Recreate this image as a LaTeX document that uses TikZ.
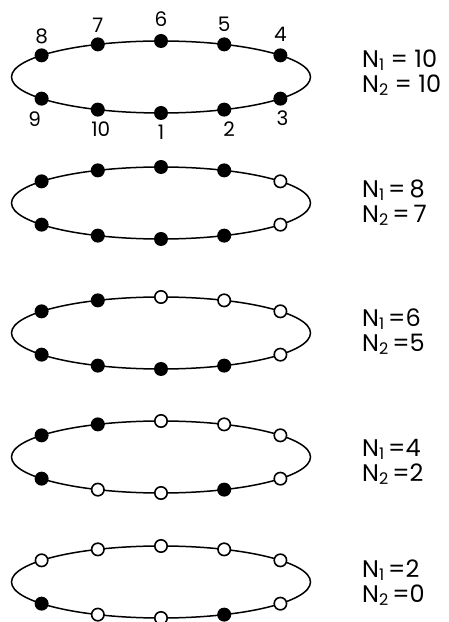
\documentclass[tikz,border=0pt]{standalone}
\usepackage{fontspec}
\setmainfont{Poppins}
\usepackage{tikz}
\usetikzlibrary{calc}
\usetikzlibrary{positioning}
\newcommand{\nsub}[1]{\raisebox{-3pt}{\fontsize{16}{16}\selectfont #1}}

\begin{document}
\begin{tikzpicture}[x=1pt,y=1pt,
  fulldot/.style={circle,fill=black,inner sep=0pt,minimum size=14pt},
  opendot/.style={circle,draw=black,fill=white,line width=1.6pt,inner sep=0pt,minimum size=12.4pt},
  ring/.style={line width=1.5pt},
  num/.style={inner sep=0pt,font=\fontsize{20}{20}\selectfont},
  count/.style={anchor=base west,inner sep=0pt,font=\fontsize{24}{24}\selectfont}]
\useasboundingbox (0,0) rectangle (448,622);

\coordinate (c1) at (161,545);
\coordinate (c2) at (161,419);
\coordinate (c3) at (161,289);
\coordinate (c4) at (161,165);
\coordinate (c5) at (161,40);

% rings
\draw[ring] (c1) ellipse (149.5 and 36);
\draw[ring] (c2) ellipse (149.5 and 36);
\draw[ring] (c3) ellipse (149.5 and 36);
\draw[ring] (c4) ellipse (149.5 and 36);
\draw[ring] (c5) ellipse (149.5 and 36);

% sites 1..10
\foreach \k/\a/\s in {1/270/fulldot,2/295/fulldot,3/323/fulldot,4/37/fulldot,5/65/fulldot,6/90/fulldot,7/115/fulldot,8/143/fulldot,9/217/fulldot,10/245/fulldot}
  \node[\s] (r1d\k) at ($(c1)+(\a:149.5 and 36)$) {};
\foreach \k/\a/\s in {1/270/fulldot,2/295/fulldot,3/323/opendot,4/37/opendot,5/65/fulldot,6/90/fulldot,7/115/fulldot,8/143/fulldot,9/217/fulldot,10/245/fulldot}
  \node[\s] (r2d\k) at ($(c2)+(\a:149.5 and 36)$) {};
\foreach \k/\a/\s in {1/270/fulldot,2/295/fulldot,3/323/opendot,4/37/opendot,5/65/opendot,6/90/opendot,7/115/fulldot,8/143/fulldot,9/217/fulldot,10/245/fulldot}
  \node[\s] (r3d\k) at ($(c3)+(\a:149.5 and 36)$) {};
\foreach \k/\a/\s in {1/270/opendot,2/295/fulldot,3/323/opendot,4/37/opendot,5/65/opendot,6/90/opendot,7/115/fulldot,8/143/fulldot,9/217/fulldot,10/245/opendot}
  \node[\s] (r4d\k) at ($(c4)+(\a:149.5 and 36)$) {};
\foreach \k/\a/\s in {1/270/opendot,2/295/fulldot,3/323/opendot,4/37/opendot,5/65/opendot,6/90/opendot,7/115/opendot,8/143/opendot,9/217/fulldot,10/245/opendot}
  \node[\s] (r5d\k) at ($(c5)+(\a:149.5 and 36)$) {};

% numbering of the first ring
\node[num,above=6pt of r1d4] (l4) {4};
\node[num,above=5pt of r1d5] (l5) {5};
\node[num,above=7pt of r1d6] (l6) {6};
\node[num,above=4pt of r1d7] (l7) {7};
\node[num,above=4pt of r1d8] (l8) {8};
\node[num,below=5pt of r1d3,xshift=2pt] (l3) {3};
\node[num,below=5pt of r1d2,xshift=5pt] (l2) {2};
\node[num,below=5pt of r1d1] (l1) {1};
\node[num,below=5pt of r1d10,xshift=3pt] (l10) {10};
\node[num,below=6pt of r1d9,xshift=-7pt] (l9) {9};

% counts
\node[count] (a1) at ($(c1)+(201,9.5)$) {N\nsub{1} = 10};
\node[count] (b1) at ($(c1)+(201,-15.5)$) {N\nsub{2} = 10};
\node[count] (a2) at ($(c2)+(201,5.5)$) {N\nsub{1}\,=\,8};
\node[count] (b2) at ($(c2)+(201,-19.5)$) {N\nsub{2}\,=\,7};
\node[count] (a3) at ($(c3)+(201,6.5)$) {N\nsub{1}\,=6};
\node[count] (b3) at ($(c3)+(201,-18.5)$) {N\nsub{2}\,=5};
\node[count] (a4) at ($(c4)+(201,0.5)$) {N\nsub{1}\,=4};
\node[count] (b4) at ($(c4)+(201,-24.5)$) {N\nsub{2}\,=2};
\node[count] (a5) at ($(c5)+(201,4.5)$) {N\nsub{1}\,=2};
\node[count] (b5) at ($(c5)+(201,-20.5)$) {N\nsub{2}\,=0};

\end{tikzpicture}
\end{document}
